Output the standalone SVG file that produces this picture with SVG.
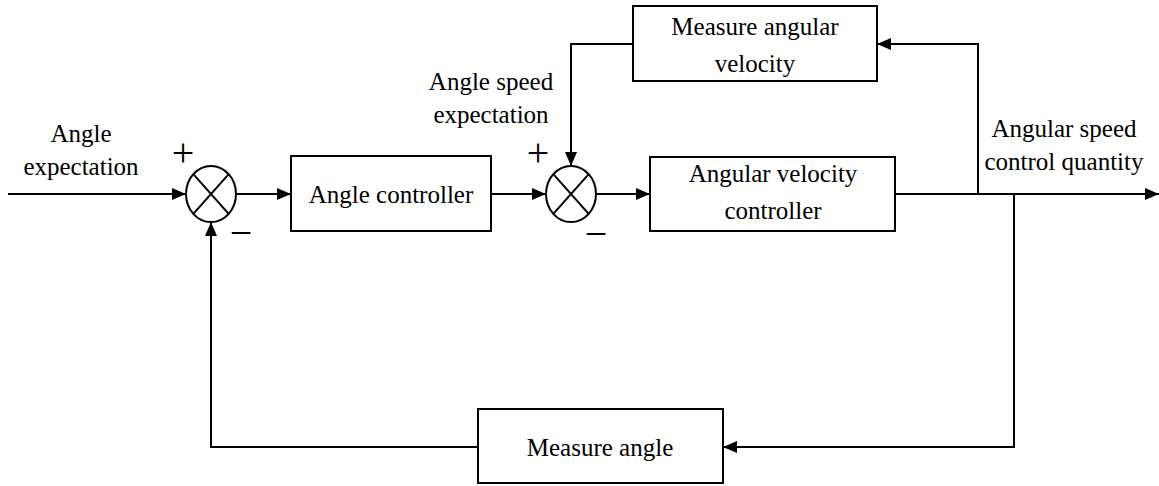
<svg xmlns="http://www.w3.org/2000/svg" width="1159" height="486" viewBox="0 0 1159 486" font-family="'Liberation Serif', 'Times New Roman', 'DejaVu Serif', serif">
<style>
text{font-family:'Liberation Serif','Times New Roman','DejaVu Serif',serif;font-size:25px;fill:#000;text-anchor:middle}
.sign{font-size:40px}
.box{fill:#fff;stroke:#000;stroke-width:2}
.sum{fill:#fff;stroke:#000;stroke-width:2}
.ln{fill:none;stroke:#000;stroke-width:2}
</style>
<defs>
<marker id="ah" viewBox="0 0 14 12" refX="14" refY="6" markerWidth="14" markerHeight="12" markerUnits="userSpaceOnUse" orient="auto">
<path d="M0,0 L14,6 L0,12 Z" fill="#000"/>
</marker>
</defs>
<g id="connectors">
<line class="ln" x1="8" y1="194" x2="186" y2="194" marker-end="url(#ah)"/>
<line class="ln" x1="236" y1="194" x2="291" y2="194" marker-end="url(#ah)"/>
<line class="ln" x1="491" y1="194" x2="546" y2="194" marker-end="url(#ah)"/>
<line class="ln" x1="596" y1="194" x2="650" y2="194" marker-end="url(#ah)"/>
<line class="ln" x1="895" y1="194" x2="1159" y2="194" marker-end="url(#ah)"/>
<polyline class="ln" points="978,194 978,44 877,44" marker-end="url(#ah)"/>
<polyline class="ln" points="633,44 571,44 571,166" marker-end="url(#ah)"/>
<polyline class="ln" points="1014,194 1014,447 723,447" marker-end="url(#ah)"/>
<polyline class="ln" points="478,447 211,447 211,222" marker-end="url(#ah)"/>
</g>
<g id="sum1">
<ellipse class="sum" cx="211" cy="194" rx="25" ry="28"/>
<line class="ln" x1="193.3" y1="174.2" x2="228.7" y2="213.8"/>
<line class="ln" x1="228.7" y1="174.2" x2="193.3" y2="213.8"/>
<text class="sign" x="183" y="166">+</text>
<text class="sign" x="241" y="246">−</text>
</g>
<g id="sum2">
<ellipse class="sum" cx="571" cy="194" rx="25" ry="28"/>
<line class="ln" x1="553.3" y1="174.2" x2="588.7" y2="213.8"/>
<line class="ln" x1="588.7" y1="174.2" x2="553.3" y2="213.8"/>
<text class="sign" x="538" y="166">+</text>
<text class="sign" x="596" y="247">−</text>
</g>
<g id="angle-controller">
<rect class="box" x="291" y="156" width="200" height="75"/>
<text x="391" y="203">Angle controller</text>
</g>
<g id="angular-velocity-controller">
<rect class="box" x="650" y="157" width="245" height="74"/>
<text x="773" y="182">Angular velocity</text>
<text x="773" y="219">controller</text>
</g>
<g id="measure-angular-velocity">
<rect class="box" x="633" y="6" width="244" height="75"/>
<text x="755" y="35">Measure angular</text>
<text x="755" y="72">velocity</text>
</g>
<g id="measure-angle">
<rect class="box" x="478" y="409" width="245" height="74"/>
<text x="600" y="456">Measure angle</text>
</g>
<g id="labels">
<text x="81" y="142">Angle</text>
<text x="81" y="175">expectation</text>
<text x="491" y="90">Angle speed</text>
<text x="491" y="123">expectation</text>
<text x="1064" y="137">Angular speed</text>
<text x="1064" y="170">control quantity</text>
</g>
</svg>
